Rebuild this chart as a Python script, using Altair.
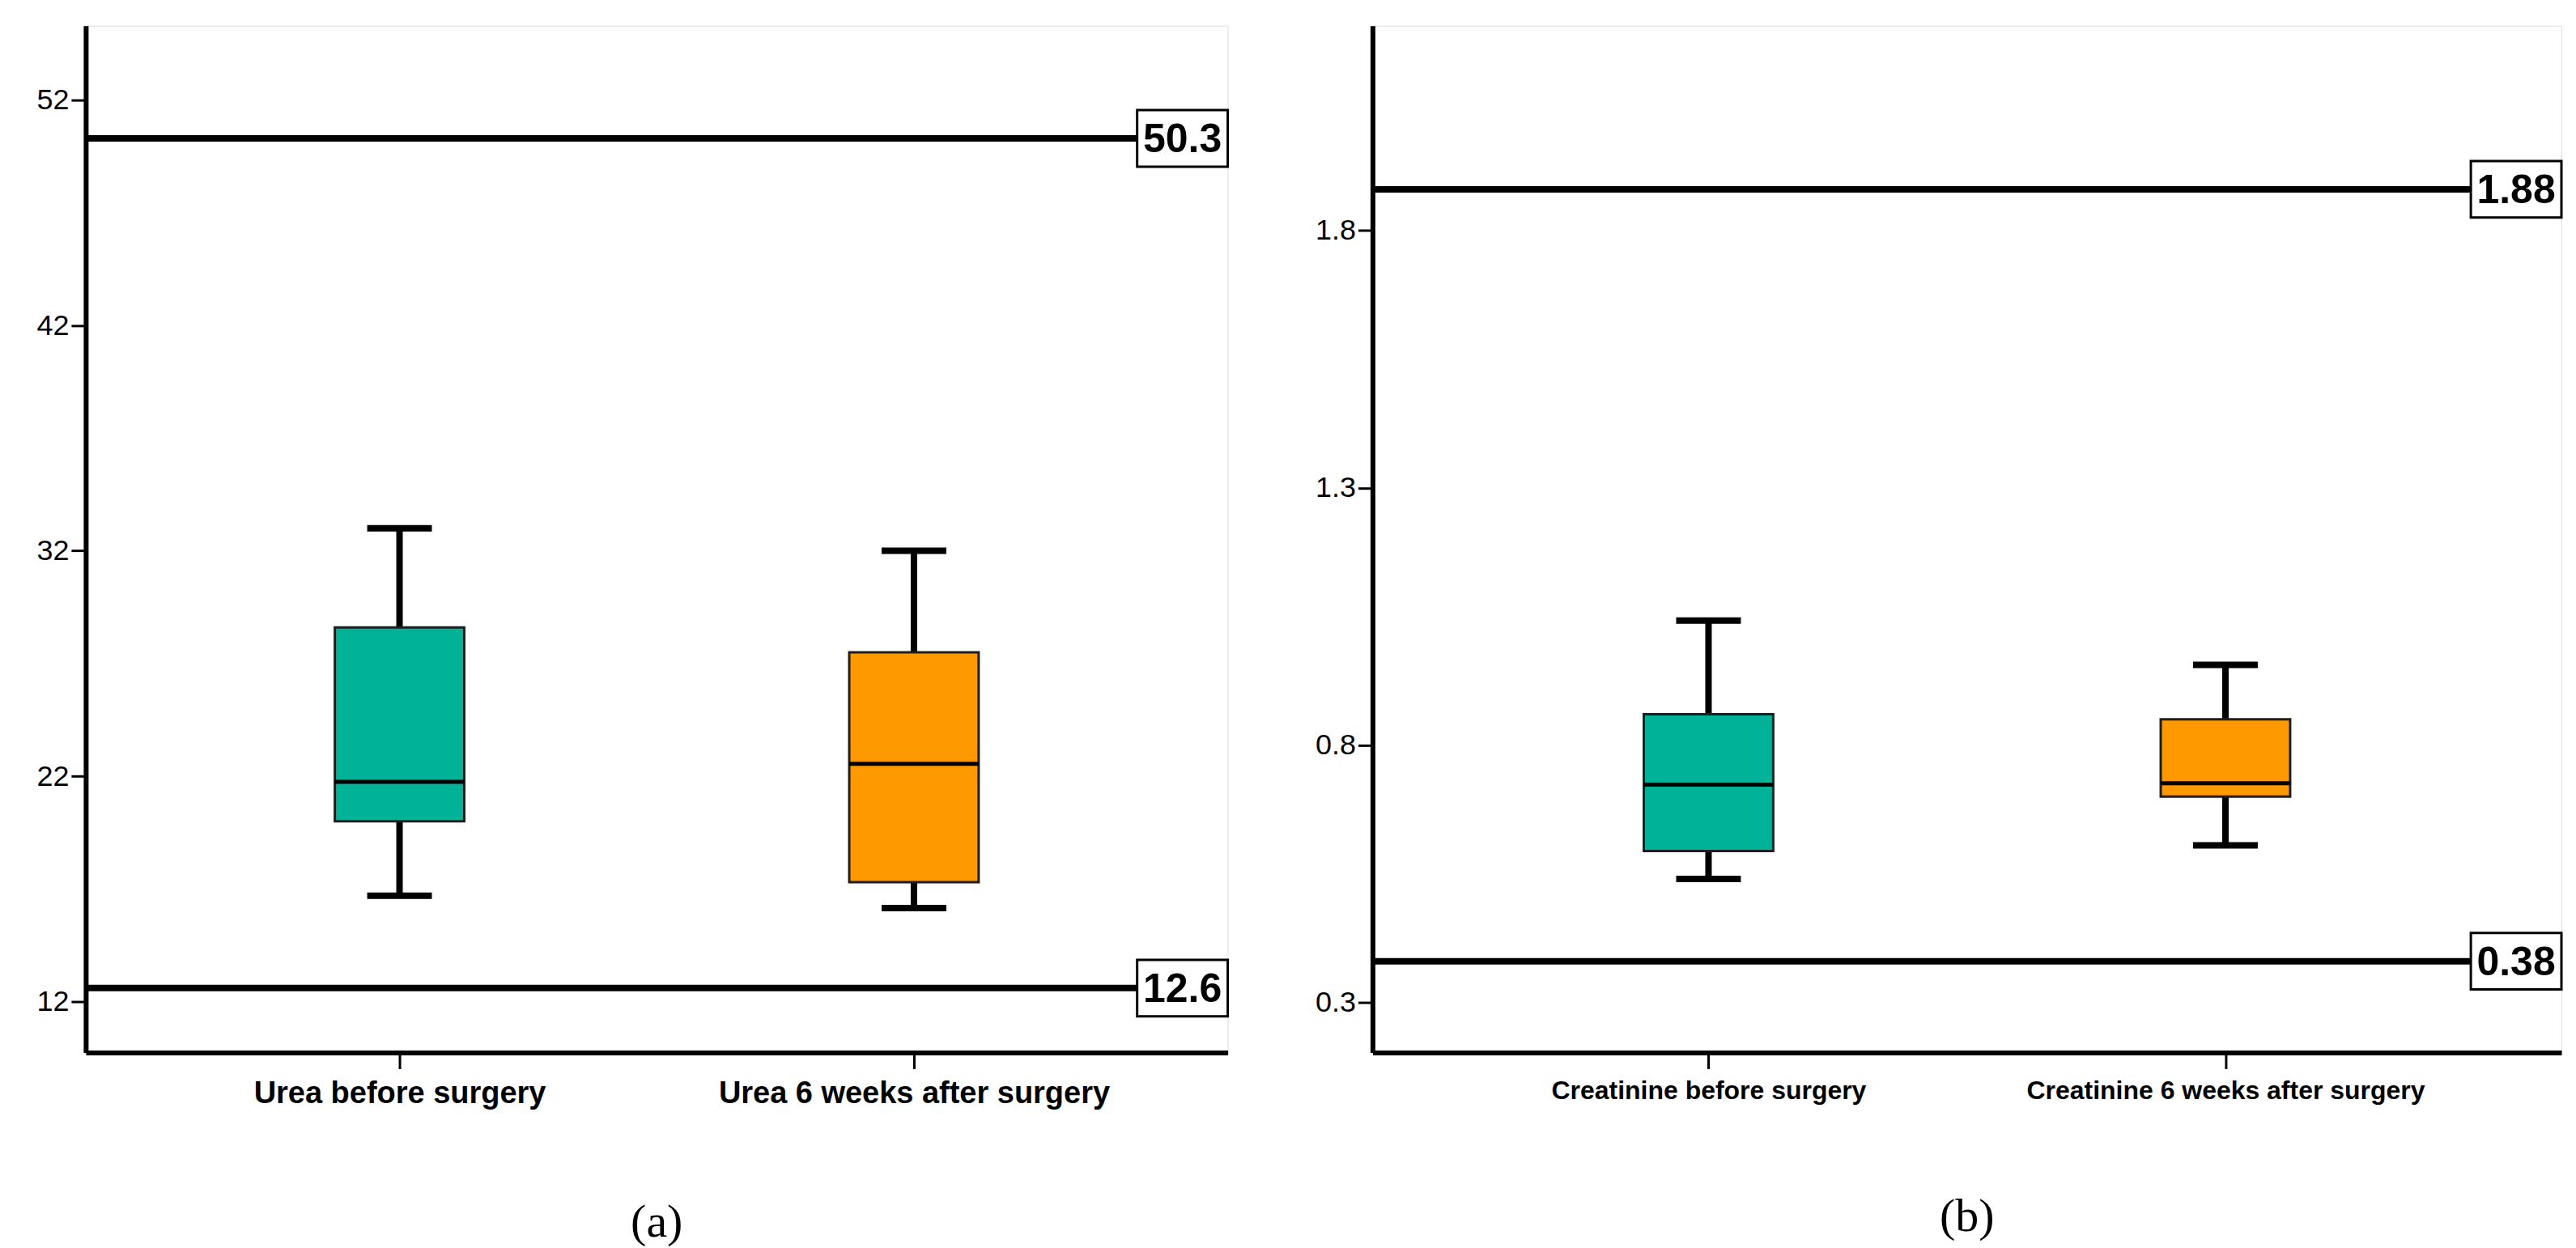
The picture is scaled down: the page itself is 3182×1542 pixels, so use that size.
import altair as alt
import pandas as pd

# ---------------- data ----------------
urea_cats = ["Urea before surgery", "Urea 6 weeks after surgery"]
urea_low = [16.7, 16.15]
urea_q1 = [20.0, 17.3]
urea_med = [21.75, 22.55]
urea_q3 = [28.6, 27.5]
urea_high = [33.0, 32.0]
urea_refs = [50.3, 12.6]
urea_ticks = [12, 22, 32, 42, 52]

creat_cats = ["Creatinine before surgery", "Creatinine 6 weeks after surgery"]
creat_low = [0.54, 0.605]
creat_q1 = [0.594, 0.70]
creat_med = [0.723, 0.726]
creat_q3 = [0.86, 0.85]
creat_high = [1.042, 0.956]
creat_refs = [1.88, 0.38]
creat_ticks = [0.3, 0.8, 1.3, 1.8]

box_colors = ["#00B398", "#FF9900"]

H = 1270
FONT = "Liberation Sans"


def panel(cats, low, q1, med, q3, high, refs, ticks, domain, W, pad, xfs, title,
          fmt, tfmt):
    df = pd.DataFrame({"cat": cats, "low": low, "q1": q1, "med": med,
                       "q3": q3, "high": high})
    rdf = pd.DataFrame({"v": refs, "lab": [format(r, fmt) for r in refs]})

    x = alt.X("cat:N", sort=cats,
              scale=alt.Scale(type="point", padding=pad),
              axis=alt.Axis(title=None, labelAngle=0, labelFontSize=xfs,
                            labelFontWeight="bold", labelFont=FONT,
                            labelColor="black", labelPadding=12, labelLimit=0,
                            tickSize=20, tickWidth=3, tickColor="black",
                            domainWidth=6, domainColor="black", grid=False))
    yscale = alt.Scale(domain=domain, nice=False, zero=False)
    yaxis = alt.Axis(title=None, values=ticks, format=tfmt, labelFontSize=36,
                     labelFont=FONT, labelColor="black", labelPadding=3,
                     tickSize=18, tickWidth=3, tickColor="black", domainWidth=6,
                     domainColor="black", grid=False)

    base = alt.Chart(df)
    whisk = base.mark_rule(strokeWidth=8, color="black").encode(
        x=x, y=alt.Y("low:Q", scale=yscale, axis=yaxis), y2="high:Q")
    caps_lo = base.mark_tick(size=80, thickness=8, color="black", opacity=1).encode(
        x=x, y=alt.Y("low:Q", scale=yscale))
    caps_hi = base.mark_tick(size=80, thickness=8, color="black", opacity=1).encode(
        x=x, y=alt.Y("high:Q", scale=yscale))
    box = base.mark_bar(size=160, stroke="#1e1e1e", strokeWidth=3, opacity=1).encode(
        x=x, y=alt.Y("q1:Q", scale=yscale), y2="q3:Q",
        color=alt.Color("cat:N", scale=alt.Scale(domain=cats, range=box_colors),
                        legend=None))
    median = base.mark_tick(size=160, thickness=5, color="black", opacity=1).encode(
        x=x, y=alt.Y("med:Q", scale=yscale))

    rbase = alt.Chart(rdf)
    rules = rbase.mark_rule(strokeWidth=8, color="black").encode(
        y=alt.Y("v:Q", scale=yscale))
    lbox = rbase.mark_rect(fill="white", stroke="black", strokeWidth=3,
                           yOffset=-35, y2Offset=35).encode(
        x=alt.value(W - 112), x2=alt.value(W),
        y=alt.Y("v:Q", scale=yscale), y2="v:Q")
    ltext = rbase.mark_text(align="center", baseline="middle", fontSize=50,
                            fontWeight="bold", font=FONT, color="black",
                            dy=2).encode(
        x=alt.value(W - 56), y=alt.Y("v:Q", scale=yscale), text="lab:N")

    return alt.layer(whisk, caps_lo, caps_hi, box, median, rules, lbox, ltext).properties(
        width=W, height=H,
        title=alt.TitleParams(title, orient="bottom", font="Liberation Serif",
                              fontSize=58, fontWeight="normal", color="black",
                              offset=112))


left = panel(urea_cats, urea_low, urea_q1, urea_med, urea_q3, urea_high,
             urea_refs, urea_ticks, [9.74, 55.3], 1412, 0.61, 38, "(a)", ".1f", "d")
right = panel(creat_cats, creat_low, creat_q1, creat_med, creat_q3, creat_high,
              creat_refs, creat_ticks, [0.2025, 2.198], 1470, 0.65, 32, "(b)",
              ".2f", ".1f")

chart = alt.hconcat(left, right, spacing=102).properties(
    padding={"left": 36, "top": 22, "right": 5, "bottom": 0},
    background="white"
).configure_view(strokeWidth=0, stroke="transparent", strokeOpacity=0).configure(font=FONT)

chart.save("out.html", embed_options={"renderer": "svg", "actions": False})
